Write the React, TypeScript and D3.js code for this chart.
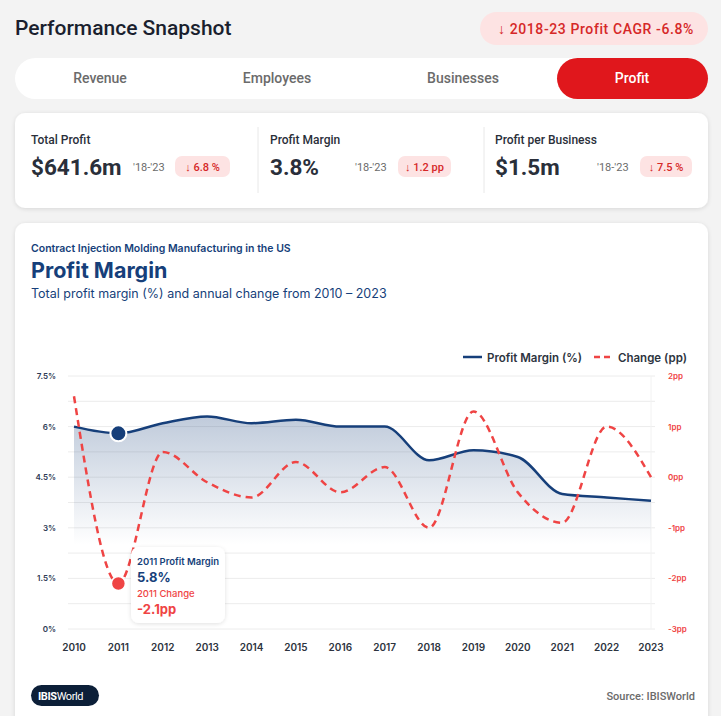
import React from "react";
import * as d3 from "d3";

const years = [2010, 2011, 2012, 2013, 2014, 2015, 2016, 2017, 2018, 2019, 2020, 2021, 2022, 2023];
const profitMargin = [6.0, 5.8, 6.1, 6.3, 6.1, 6.2, 6.0, 6.0, 5.0, 5.3, 5.1, 4.0, 3.9, 3.8];
const changePP = [1.6, -2.1, 0.5, -0.1, -0.4, 0.3, -0.3, 0.2, -1.0, 1.3, -0.3, -0.9, 1.0, 0.0];
const leftTicks = [0, 1.5, 3, 4.5, 6, 7.5];
const leftTickLabels = ["0%", "1.5%", "3%", "4.5%", "6%", "7.5%"];
const rightTicks = [-3, -2, -1, 0, 1, 2];
const rightTickLabels = ["-3pp", "-2pp", "-1pp", "0pp", "1pp", "2pp"];
const tabs = ["Revenue", "Employees", "Businesses", "Profit"];
const statLabels = ["Total Profit", "Profit Margin", "Profit per Business"];
const statValues = ["$641.6m", "3.8%", "$1.5m"];
const statChanges = ["6.8 %", "1.2 pp", "7.5 %"];

const NAVY = "#163f7a";
const RED = "#ef4444";
const FONT = "Inter, 'Noto Sans', sans-serif";
const FONT2 = "Roboto, 'Noto Sans', sans-serif";

export default function App() {
  const x = d3.scaleLinear().domain([2010, 2023]).range([74, 651]);
  const yL = d3.scaleLinear().domain([0, 7.5]).range([629, 376]);
  const yR = d3.scaleLinear().domain([-3, 2]).range([629, 376]);

  const pm = years.map((yr, i) => [yr, profitMargin[i]] as [number, number]);
  const ch = years.map((yr, i) => [yr, changePP[i]] as [number, number]);

  const line = d3.line<[number, number]>().x(d => x(d[0])).y(d => yL(d[1])).curve(d3.curveMonotoneX);
  const area = d3.area<[number, number]>().x(d => x(d[0])).y0(yL(0)).y1(d => yL(d[1])).curve(d3.curveMonotoneX);
  const line2 = d3.line<[number, number]>().x(d => x(d[0])).y(d => yR(d[1])).curve(d3.curveMonotoneX);

  const grid = d3.range(0, 7.51, 0.75);

  const statX = [31, 270, 495];
  const stampX = [133, 355, 597];
  const badgeX = [175, 398, 640];
  const badgeW = [55, 53, 52];
  const tabCx = [100, 277, 463, 632];

  return (
    <svg width={721} height={716} style={{ position: "absolute", left: 0, top: 0 }}>
      <defs>
        <linearGradient id="ag" gradientUnits="userSpaceOnUse" x1={0} y1={yL(6.3)} x2={0} y2={yL(2.5)}>
          <stop offset="0" stopColor="#163f7a" stopOpacity={0.27} />
          <stop offset="1" stopColor="#163f7a" stopOpacity={0} />
        </linearGradient>
        <filter id="sh" x="-20%" y="-20%" width="140%" height="150%">
          <feDropShadow dx="0" dy="1" stdDeviation="2" floodColor="#000" floodOpacity="0.12" />
        </filter>
      </defs>
      <rect x={0} y={0} width={721} height={716} fill="#f3f3f3" />

      <text x={15} y={35} fontFamily={FONT2} fontSize={21} fontWeight={500} fill="#1a1f2e">Performance Snapshot</text>
      <rect x={480} y={12} width={228} height={33} rx={16.5} fill="#fde3e3" />
      <text x={596} y={34} textAnchor="middle" fontFamily={FONT2} fontSize={14} fontWeight={500} fill="#d62828" letterSpacing={0.6}>↓  2018-23 Profit CAGR -6.8%</text>

      <rect x={15} y={58} width={693} height={41} rx={20.5} fill="#fff" />
      <rect x={557} y={58} width={151} height={41} rx={20.5} fill="#e0171c" />
      {tabs.map((t, i) => (
        <text key={t} x={tabCx[i]} y={83} textAnchor="middle" fontFamily={FONT2} fontSize={14} fontWeight={500}
          fill={i === 3 ? "#fff" : "#6b6b6b"}>{t}</text>
      ))}

      <rect x={15} y={113} width={693} height={95} rx={10} fill="#fff" filter="url(#sh)" />
      <line x1={258} x2={258} y1={127} y2={193} stroke="#e8e8e8" />
      <line x1={484} x2={484} y1={127} y2={193} stroke="#e8e8e8" />
      {statLabels.map((s, i) => (
        <g key={s}>
          <text x={statX[i]} y={144} fontFamily={FONT2} fontSize={12} fontWeight={500} fill="#2a2f3a">{s}</text>
          <text x={statX[i]} y={175} fontFamily={FONT2} fontSize={22.5} fontWeight={700} fill="#2a2f3a">{statValues[i]}</text>
          <text x={stampX[i]} y={171} fontFamily={FONT2} fontSize={11} fill="#6b6b6b">'18-'23</text>
          <rect x={badgeX[i]} y={156} width={badgeW[i]} height={21} rx={7} fill="#fde3e3" />
          <text x={badgeX[i] + badgeW[i] / 2} y={171} textAnchor="middle" fontFamily={FONT2} fontSize={11} fontWeight={500} fill="#d62828">↓ {statChanges[i]}</text>
        </g>
      ))}

      <rect x={15} y={223} width={693} height={510} rx={10} fill="#fff" filter="url(#sh)" />
      <text x={31} y={252} fontFamily={FONT} fontSize={10.5} fontWeight={600} fill={NAVY}>Contract Injection Molding Manufacturing in the US</text>
      <text x={31} y={278} fontFamily={FONT} fontSize={21.5} fontWeight={700} fill={NAVY}>Profit Margin</text>
      <text x={31} y={298} fontFamily={FONT} fontSize={12.5} fill={NAVY}>Total profit margin (%) and annual change from 2010 – 2023</text>

      <line x1={463} x2={482} y1={357} y2={357} stroke={NAVY} strokeWidth={2.5} />
      <text x={487} y={362} fontFamily={FONT} fontSize={11.5} fontWeight={600} fill="#2d3440">Profit Margin (%)</text>
      <line x1={594} x2={612} y1={357} y2={357} stroke={RED} strokeWidth={2.5} strokeDasharray="6,4" />
      <text x={618} y={362} fontFamily={FONT} fontSize={11.5} fontWeight={600} fill="#2d3440">Change (pp)</text>

      {grid.map(g => (
        <line key={g} x1={68} x2={655} y1={yL(g)} y2={yL(g)} stroke="#ececec" strokeWidth={1} />
      ))}
      <line x1={651} x2={651} y1={376} y2={629} stroke="#f2f2f2" />
      {leftTicks.map((t, i) => (
        <text key={t} x={56} y={yL(t) + 3} textAnchor="end" fontFamily={FONT} fontSize={8} fontWeight={600} fill="#2d3a55">{leftTickLabels[i]}</text>
      ))}
      {rightTicks.map((t, i) => (
        <text key={t} x={668} y={yR(t) + 3} fontFamily={FONT} fontSize={8} fontWeight={600} fill={RED}>{rightTickLabels[i]}</text>
      ))}
      {years.map(yr => (
        <text key={yr} x={x(yr)} y={651} textAnchor="middle" fontFamily={FONT} fontSize={10} fontWeight={600} fill="#2d3440">{yr}</text>
      ))}

      <path d={area(pm) || ""} fill="url(#ag)" />
      <path d={line(pm) || ""} fill="none" stroke={NAVY} strokeWidth={2.5} />
      <path d={line2(ch) || ""} fill="none" stroke={RED} strokeWidth={2.5} strokeDasharray="7,5" />

      <circle cx={x(2011)} cy={yL(profitMargin[1])} r={8} fill={NAVY} stroke="#fff" strokeWidth={2} />
      <circle cx={x(2011)} cy={yR(changePP[1])} r={7} fill={RED} stroke="#fff" strokeWidth={1.5} />

      <rect x={131} y={547} width={94} height={76} rx={8} fill="#fff" filter="url(#sh)" />
      <text x={137} y={565} fontFamily={FONT} fontSize={9.5} fontWeight={600} fill={NAVY}>2011 Profit Margin</text>
      <text x={137} y={582} fontFamily={FONT} fontSize={13} fontWeight={700} fill={NAVY}>5.8%</text>
      <text x={137} y={597} fontFamily={FONT} fontSize={9.5} fontWeight={500} fill={RED}>2011 Change</text>
      <text x={137} y={614} fontFamily={FONT} fontSize={13} fontWeight={700} fill={RED}>-2.1pp</text>

      <rect x={31} y={685} width={68} height={21} rx={10.5} fill="#0c1f38" />
      <text x={38} y={700} fontFamily={FONT2} fontSize={11} fill="#fff" letterSpacing={-0.4}>
        <tspan fontWeight={700}>IBIS</tspan><tspan>World</tspan>
      </text>
      <text x={695} y={700} textAnchor="end" fontFamily={FONT2} fontSize={11} fontWeight={500} fill="#6b6b6b">Source: IBISWorld</text>
    </svg>
  );
}
